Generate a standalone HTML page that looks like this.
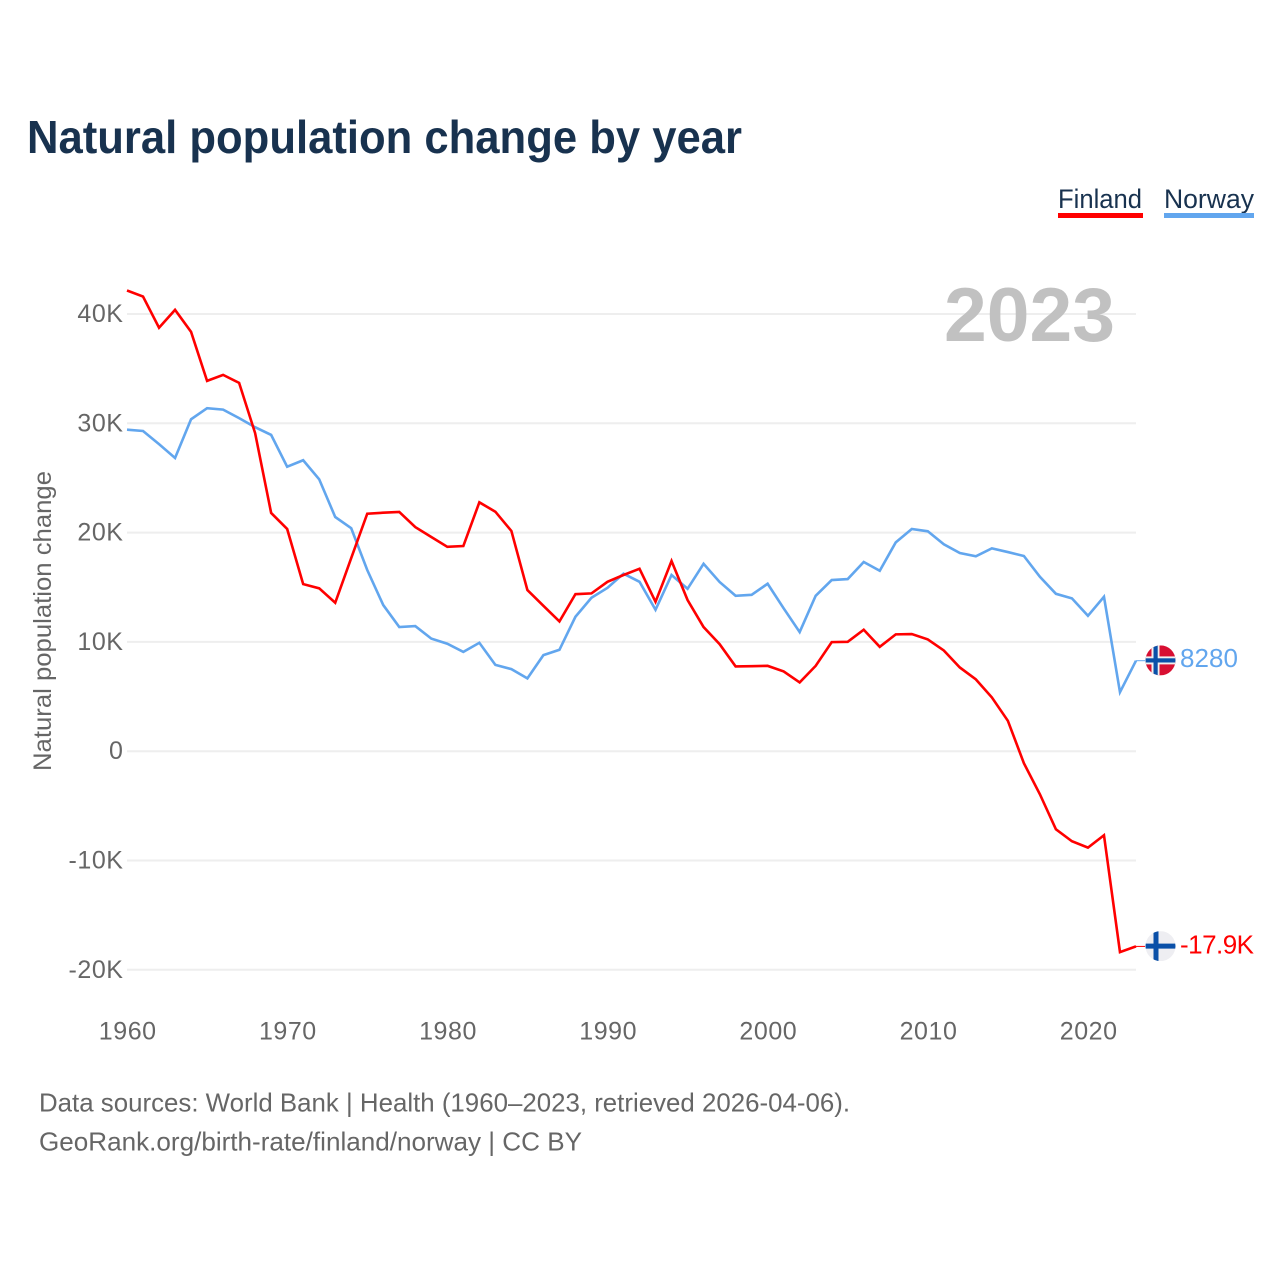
<!DOCTYPE html>
<html lang="en">
<head>
<meta charset="utf-8">
<title>Natural population change by year</title>
<style>
html,body{margin:0;padding:0;background:#fff;width:1280px;height:1280px;overflow:hidden}
svg{display:block}
text{font-family:"Liberation Sans",sans-serif}
.tick{font-size:25px;fill:#666;letter-spacing:.55px}
.end{font-size:26px}
</style>
</head>
<body>
<svg id="chart" xmlns="http://www.w3.org/2000/svg" width="1280" height="1280" viewBox="0 0 1280 1280">
  <defs>
    <clipPath id="clip-no"><circle cx="0" cy="0" r="15"/></clipPath>
    <clipPath id="clip-fi"><circle cx="0" cy="0" r="15"/></clipPath>
  </defs>
  <text x="27" y="153" font-size="46" font-weight="700" fill="#18324f" textLength="715" lengthAdjust="spacingAndGlyphs">Natural population change by year</text>
  <g>
    <text x="1058" y="208" font-size="27" fill="#18324f" textLength="84" lengthAdjust="spacingAndGlyphs">Finland</text>
    <rect x="1058" y="213" width="85" height="5" fill="#ff0000"/>
  </g>
  <g>
    <text x="1164" y="208" font-size="27" fill="#18324f" textLength="90" lengthAdjust="spacingAndGlyphs">Norway</text>
    <rect x="1164" y="213" width="90" height="5" fill="#62a6ee"/>
  </g>
  <g id="grid"></g>
  <g id="yticks"></g>
  <g id="xticks"></g>
  <text x="944" y="341" font-size="76" font-weight="700" fill="#c1c1c1" textLength="171" lengthAdjust="spacingAndGlyphs">2023</text>
  <text transform="translate(51,771) rotate(-90)" font-size="25" fill="#666" textLength="300" lengthAdjust="spacingAndGlyphs">Natural population change</text>
  <g id="series"></g>
  <g id="flag-norway">
    <g clip-path="url(#clip-no)">
      <rect x="-15" y="-15" width="30" height="30" fill="#d80f32"/>
      <rect x="-9" y="-15" width="8" height="30" fill="#f0f0f0"/>
      <rect x="-15" y="-4" width="30" height="8" fill="#f0f0f0"/>
      <rect x="-7" y="-15" width="4.2" height="30" fill="#0a50a8"/>
      <rect x="-15" y="-2.1" width="30" height="4.2" fill="#0a50a8"/>
    </g>
  </g>
  <g id="flag-finland">
    <g clip-path="url(#clip-fi)">
      <rect x="-15" y="-15" width="30" height="30" fill="#eeeef2"/>
      <rect x="-7" y="-15" width="5" height="30" fill="#0a50a8"/>
      <rect x="-15" y="-2.5" width="30" height="5" fill="#0a50a8"/>
    </g>
  </g>
  <text id="label-norway" class="end" x="1180" fill="#62a6ee"></text>
  <text id="label-finland" class="end" x="1180" fill="#ff0000"></text>
  <text x="39" y="1111.5" font-size="26" fill="#666" textLength="811" lengthAdjust="spacingAndGlyphs">Data sources: World Bank | Health (1960–2023, retrieved 2026-04-06).</text>
  <text x="39" y="1150.5" font-size="26" fill="#666" textLength="543" lengthAdjust="spacingAndGlyphs">GeoRank.org/birth-rate/finland/norway | CC BY</text>
</svg>
<script>
const firstYear = 1960;
const lastYear = 2023;
const yTickValues = [40000, 30000, 20000, 10000, 0, -10000, -20000];
const yTickLabels = ["40K", "30K", "20K", "10K", "0", "-10K", "-20K"];
const xTickValues = [1960, 1970, 1980, 1990, 2000, 2010, 2020];
const finland = [42150,41600,38740,40380,38370,33880,34430,33700,29100,21800,20330,15290,14900,13580,17670,21730,21820,21890,20500,19600,18700,18770,22770,21910,20150,14740,13300,11870,14370,14440,15500,16120,16690,13670,17400,13830,11360,9800,7760,7780,7810,7300,6290,7810,9980,10010,11110,9550,10690,10720,10230,9220,7660,6570,4920,2780,-1100,-3940,-7140,-8240,-8820,-7690,-18380,-17860];
const norway = [29420,29300,28090,26830,30370,31380,31250,30470,29640,28940,26030,26620,24880,21430,20400,16580,13370,11360,11450,10300,9830,9090,9920,7900,7510,6660,8790,9280,12300,14040,14950,16240,15500,12940,16120,14860,17150,15480,14220,14310,15320,13070,10900,14220,15660,15750,17310,16510,19110,20330,20120,18930,18130,17830,18560,18220,17860,15960,14400,13980,12390,14130,5400,8280];

const NS = 'http://www.w3.org/2000/svg';
const xLeft = 127, xRight = 1136, yZero = 751.2, yPerUnit = 218.6 / 20000;
function xScale(year) { return xLeft + (year - firstYear) * (xRight - xLeft) / (lastYear - firstYear); }
function yScale(v) { return yZero - v * yPerUnit; }
function fmt(v) {
  return Math.abs(v) >= 10000 ? (v / 1000).toFixed(1) + 'K' : String(v);
}
function make(tag, attrs, parent) {
  const el = document.createElementNS(NS, tag);
  for (const k in attrs) el.setAttribute(k, attrs[k]);
  parent.appendChild(el);
  return el;
}

const grid = document.getElementById('grid');
const yticks = document.getElementById('yticks');
yTickValues.forEach(function (v, i) {
  const line = make('line', { x1: xLeft, x2: xRight, y1: yScale(v), y2: yScale(v), stroke: '#eeeeee', 'stroke-width': 2 }, grid);
  
  
  const t = make('text', { x: 123.5, y: yScale(v) + 8, 'text-anchor': 'end', class: 'tick' }, yticks);
  t.textContent = yTickLabels[i];
  
  
});

const xticks = document.getElementById('xticks');
xTickValues.forEach(function (year) {
  const t = make('text', { x: xScale(year) + 0.7, y: 1039.5, 'text-anchor': 'middle', class: 'tick' }, xticks);
  t.textContent = String(year);
  
  
});

function points(values) {
  return values.map(function (v, i) { return xScale(firstYear + i).toFixed(2) + ',' + yScale(v).toFixed(2); }).join(' ');
}
const series = document.getElementById('series');

const stubN = make('line', { x1: xRight, x2: 1145, y1: yScale(norway[norway.length - 1]), y2: yScale(norway[norway.length - 1]), stroke: '#62a6ee', 'stroke-width': 1 }, series);


const stubF = make('line', { x1: xRight, x2: 1145, y1: yScale(finland[finland.length - 1]), y2: yScale(finland[finland.length - 1]), stroke: '#ff0000', 'stroke-width': 1 }, series);



const lineN = make('polyline', { points: points(norway), fill: 'none', stroke: '#62a6ee', 'stroke-width': 2.6, 'stroke-linejoin': 'miter' }, series);


const lineF = make('polyline', { points: points(finland), fill: 'none', stroke: '#ff0000', 'stroke-width': 2.6, 'stroke-linejoin': 'miter' }, series);



const lastN = norway[norway.length - 1], lastF = finland[finland.length - 1];
document.getElementById('flag-norway').setAttribute('transform', 'translate(1160.5,' + (yScale(lastN) - 0.3) + ')');
document.getElementById('flag-finland').setAttribute('transform', 'translate(1160.5,' + (yScale(lastF) - 0.3) + ')');
const lN = document.getElementById('label-norway');
lN.setAttribute('y', yScale(lastN) + 6.5);
lN.textContent = fmt(lastN);
lN.setAttribute('textLength', 58);
const lF = document.getElementById('label-finland');
lF.setAttribute('y', yScale(lastF) + 7);
lF.textContent = fmt(lastF);
lF.setAttribute('textLength', 74);
</script>
</body>
</html>
